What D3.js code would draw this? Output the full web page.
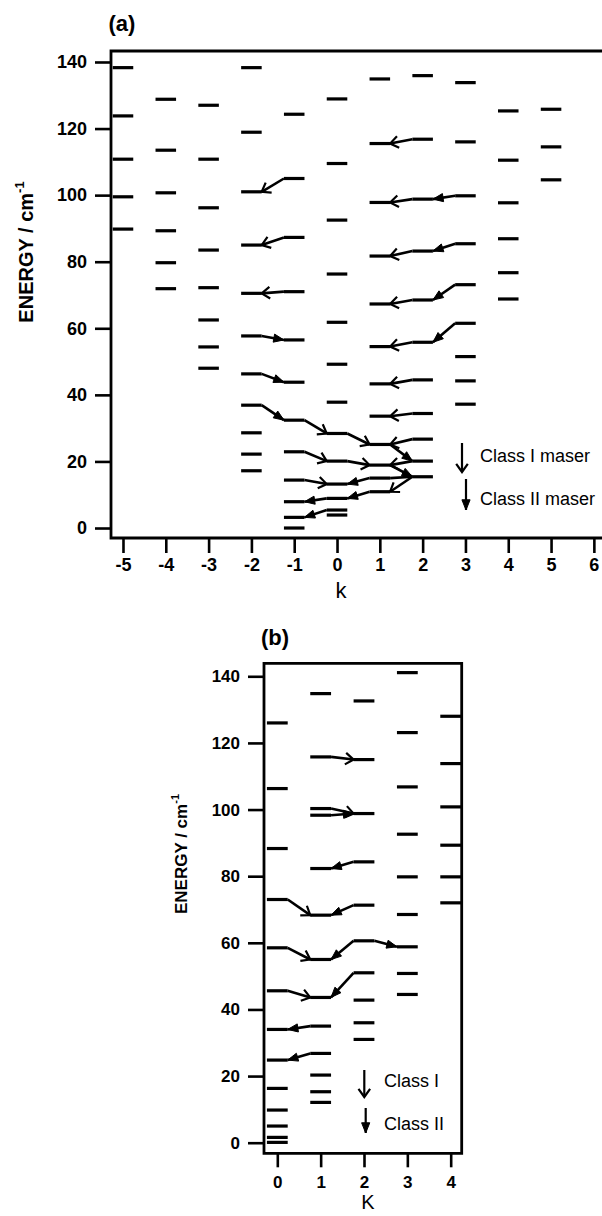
<!DOCTYPE html>
<html>
<head>
<meta charset="utf-8">
<script src="https://cdn.jsdelivr.net/npm/d3@7"></script>
<style>
  body { margin: 0; background: #fff; }
  svg { display: block; font-family: "Liberation Sans", Arial, Helvetica, sans-serif; }
</style>
</head>
<body>
<svg id="chart" width="602" height="1216"></svg>
<script>
// ---- panel (a): energy levels per k column ----
const kA = [-5, -4, -3, -2, -1, 0, 1, 2, 3, 4, 5];
const energiesA = [
  [138.3, 123.8, 110.8, 99.5, 89.8],
  [128.8, 113.5, 100.7, 89.3, 79.7, 71.9],
  [127.0, 110.8, 96.2, 83.5, 72.2, 62.5, 54.4, 48.0],
  [138.3, 118.9, 101.0, 85.0, 70.5, 57.7, 46.3, 36.9, 28.6, 22.2, 17.2],
  [124.3, 105.0, 87.3, 71.0, 56.5, 43.8, 32.4, 22.9, 14.4, 7.9, 3.2, 0],
  [128.9, 109.5, 92.5, 76.3, 61.8, 49.2, 37.8, 28.4, 20.1, 13.2, 8.9, 5.4, 3.9],
  [134.9, 115.5, 97.8, 81.7, 67.3, 54.5, 43.3, 33.6, 25.1, 18.9, 15.0, 10.9],
  [135.9, 116.8, 98.8, 83.2, 68.5, 55.8, 44.5, 34.4, 26.7, 20.1, 15.4],
  [133.8, 116.0, 99.8, 85.4, 73.1, 61.5, 51.5, 44.2, 37.2],
  [125.3, 110.5, 97.7, 86.9, 76.7, 68.8],
  [125.8, 114.5, 104.6]
];
// transitions: [kFrom, eFrom, kTo, eTo, class] (1 = class I, 2 = class II, 0 = plain link)
const transA = [
  [-1, 105.0, -2, 101.0, 1],
  [-1, 87.3, -2, 85.0, 1],
  [-1, 71.0, -2, 70.5, 1],
  [-2, 57.7, -1, 56.5, 2],
  [-2, 46.3, -1, 43.8, 2],
  [-2, 36.9, -1, 32.4, 2],
  [-1, 32.4, 0, 28.4, 1],
  [0, 28.4, 1, 25.1, 1],
  [2, 26.7, 1, 25.1, 1],
  [1, 25.1, 2, 20.1, 2],
  [-1, 22.9, 0, 20.1, 1],
  [0, 20.1, 1, 18.9, 1],
  [2, 20.1, 1, 18.9, 1],
  [1, 18.9, 2, 15.4, 2],
  [2, 15.4, 1, 15.0, 0],
  [2, 15.4, 1, 10.9, 1],
  [-1, 14.4, 0, 13.2, 1],
  [1, 15.0, 0, 13.2, 2],
  [1, 10.9, 0, 8.9, 2],
  [0, 8.9, -1, 7.9, 2],
  [0, 5.4, -1, 3.2, 2],
  [2, 116.8, 1, 115.5, 1],
  [3, 99.8, 2, 98.8, 2],
  [2, 98.8, 1, 97.8, 1],
  [3, 85.4, 2, 83.2, 2],
  [2, 83.2, 1, 81.7, 1],
  [3, 73.1, 2, 68.5, 2],
  [2, 68.5, 1, 67.3, 1],
  [3, 61.5, 2, 55.8, 2],
  [2, 55.8, 1, 54.5, 1],
  [2, 44.5, 1, 43.3, 1],
  [2, 34.4, 1, 33.6, 1]
];
const xTicksA = [-5, -4, -3, -2, -1, 0, 1, 2, 3, 4, 5, 6];

// ---- panel (b) ----
const kB = [0, 1, 2, 3, 4];
const energiesB = [
  [126.0, 106.3, 88.3, 73.0, 58.5, 45.6, 34.0, 24.8, 16.3, 9.8, 5.0, 1.6, 0.1],
  [134.8, 115.8, 100.3, 98.3, 82.3, 68.3, 55.0, 43.6, 35.0, 26.8, 20.3, 15.3, 12.1],
  [132.6, 115.0, 98.8, 84.3, 71.3, 60.6, 51.0, 42.8, 36.0, 31.0],
  [141.1, 123.1, 106.8, 92.6, 79.8, 68.5, 58.8, 50.8, 44.5],
  [128.0, 113.8, 100.8, 89.3, 79.8, 72.0]
];
const transB = [
  [1, 115.8, 2, 115.0, 1],
  [1, 100.3, 2, 98.8, 1],
  [1, 98.3, 2, 98.8, 2],
  [2, 84.3, 1, 82.3, 2],
  [0, 73.0, 1, 68.3, 1],
  [2, 71.3, 1, 68.3, 2],
  [0, 58.5, 1, 55.0, 1],
  [2, 60.6, 1, 55.0, 2],
  [2, 60.6, 3, 58.8, 2],
  [0, 45.6, 1, 43.6, 1],
  [2, 51.0, 1, 43.6, 2],
  [1, 35.0, 0, 34.0, 2],
  [1, 26.8, 0, 24.8, 2]
];
const xTicksB = [0, 1, 2, 3, 4];
const yTicks = [0, 20, 40, 60, 80, 100, 120, 140];

const svg = d3.select('#chart');
const HW = 0.24; // half width of a level bar, in k units

function arrowHead(g, x1, y1, x2, y2, cls) {
  const a = Math.atan2(y2 - y1, x2 - x1);
  if (cls === 1) {
    const len = 10, sp = 0.62;
    g.append('path')
      .attr('d', `M${x2 - len * Math.cos(a - sp)},${y2 - len * Math.sin(a - sp)}L${x2},${y2}L${x2 - len * Math.cos(a + sp)},${y2 - len * Math.sin(a + sp)}`)
      .attr('fill', 'none').attr('stroke', '#000').attr('stroke-width', 2.2);
  } else if (cls === 2) {
    const len = 11, sp = 0.38;
    g.append('path')
      .attr('d', `M${x2},${y2}L${x2 - len * Math.cos(a - sp)},${y2 - len * Math.sin(a - sp)}L${x2 - len * Math.cos(a + sp)},${y2 - len * Math.sin(a + sp)}Z`)
      .attr('fill', '#000').attr('stroke', '#000').attr('stroke-width', 1);
  }
}

function drawPanel(p) {
  const { x, y, ks, energies, trans, xTicks } = p;
  const g = svg.append('g');

  // axes
  const yAxis = d3.axisLeft(y).tickValues(yTicks).tickSize(16).tickPadding(p.yPad);
  const xAxis = d3.axisBottom(x).tickValues(xTicks).tickSize(p.xTick).tickPadding(p.xPad)
    .tickFormat(d => String(d));
  const gy = g.append('g').attr('transform', `translate(${x.range()[0]},0)`).call(yAxis);
  const gx = g.append('g').attr('transform', `translate(0,${y.range()[0]})`).call(xAxis);
  [gx, gy].forEach(ax => {
    ax.select('.domain').remove();
    ax.selectAll('line').attr('stroke', '#000').attr('stroke-width', 2.6);
    ax.selectAll('text').attr('fill', '#000').attr('font-size', p.tickFont).attr('font-weight', 'bold');
  });

  // frame
  const [x0, x1] = x.range();
  const [yb, yt] = y.range();
  const frame = p.box
    ? `M${x0},${yt}H${x1}V${yb}H${x0}Z`
    : `M${x1},${yt}H${x0}V${yb}H${x1}`;
  g.append('path').attr('d', frame).attr('fill', 'none')
    .attr('stroke', '#000').attr('stroke-width', 2.8);

  // levels
  const levels = [];
  ks.forEach((k, i) => energies[i].forEach(e => levels.push({ k, e })));
  g.append('g').selectAll('line').data(levels).join('line')
    .attr('x1', d => Math.max(x0, x(d.k - HW)))
    .attr('x2', d => Math.min(x1, x(d.k + HW)))
    .attr('y1', d => y(d.e)).attr('y2', d => y(d.e))
    .attr('stroke', '#000').attr('stroke-width', 3.2);

  // transitions
  const gt = g.append('g');
  trans.forEach(([ka, ea, kb, eb, cls]) => {
    const s = Math.sign(kb - ka);
    const xs = x(ka + s * HW), ys = y(ea);
    const xe = x(kb - s * HW), ye = y(eb);
    gt.append('line').attr('x1', xs).attr('y1', ys).attr('x2', xe).attr('y2', ye)
      .attr('stroke', '#000').attr('stroke-width', 2.6);
    arrowHead(gt, xs, ys, xe, ye, cls);
  });

  // panel tag
  g.append('text').attr('x', p.tag[0]).attr('y', p.tag[1])
    .attr('font-size', 22).attr('text-anchor', 'middle')
    .attr('font-weight', 'bold').text(p.tagText);

  // axis titles
  const yt2 = g.append('text')
    .attr('transform', `translate(${p.yTitle[0]},${p.yTitle[1]}) rotate(-90)`)
    .attr('text-anchor', 'middle').attr('font-weight', 'bold')
    .attr('font-size', p.yTitleFont);
  yt2.append('tspan').text('ENERGY / cm');
  yt2.append('tspan').attr('dy', -p.yTitleFont * 0.45)
    .attr('font-size', p.yTitleFont * 0.65).text('-1');

  g.append('text').attr('x', p.xTitle[0]).attr('y', p.xTitle[1])
    .attr('text-anchor', 'middle').attr('font-size', p.xTitleFont)
    .text(p.xTitleText);

  // legend
  p.legend.forEach(l => {
    g.append('line').attr('x1', l.x).attr('x2', l.x).attr('y1', l.y0).attr('y2', l.y1)
      .attr('stroke', '#000').attr('stroke-width', 2.2);
    arrowHead(g, l.x, l.y0, l.x, l.y1, l.cls);
    g.append('text').attr('x', l.tx).attr('y', l.ty)
      .attr('font-size', 18).text(l.text);
  });
}

drawPanel({
  x: d3.scaleLinear().domain([-5.28, 6.19]).range([111, 602]),
  y: d3.scaleLinear().domain([-3, 143.3]).range([538, 51]),
  ks: kA, energies: energiesA, trans: transA, xTicks: xTicksA,
  box: false, yPad: 8, xTick: 15, xPad: 5, tickFont: 18,
  tag: [122, 31], tagText: '(a)',
  yTitle: [33, 252], yTitleFont: 20,
  xTitle: [341, 598], xTitleFont: 22, xTitleText: 'k',
  legend: [
    { x: 462, y0: 443, y1: 472, cls: 1, tx: 480, ty: 462, text: 'Class I maser' },
    { x: 466, y0: 479, y1: 510, cls: 2, tx: 480, ty: 505, text: 'Class II maser' }
  ]
});

drawPanel({
  x: d3.scaleLinear().domain([-0.307, 4.254]).range([264, 461.7]),
  y: d3.scaleLinear().domain([-3.18, 143.9]).range([1153.3, 663.3]),
  ks: kB, energies: energiesB, trans: transB, xTicks: xTicksB,
  box: true, yPad: 8, xTick: 14, xPad: 9, tickFont: 17,
  tag: [275, 645], tagText: '(b)',
  yTitle: [187, 854], yTitleFont: 17,
  xTitle: [368, 1209], xTitleFont: 20, xTitleText: 'K',
  legend: [
    { x: 364.3, y0: 1070, y1: 1097, cls: 1, tx: 384, ty: 1087, text: 'Class I' },
    { x: 365.7, y0: 1108, y1: 1133, cls: 2, tx: 384, ty: 1130, text: 'Class II' }
  ]
});
</script>
</body>
</html>
